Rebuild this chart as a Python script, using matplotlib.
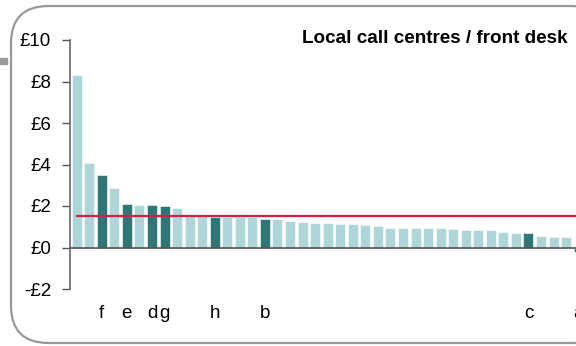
import matplotlib
matplotlib.use("Agg")
import matplotlib.pyplot as plt
from matplotlib.patches import FancyBboxPatch, Rectangle
from matplotlib.transforms import blended_transform_factory

plt.rcParams["font.family"] = ["Liberation Sans", "DejaVu Sans"]

# cost per contact, sorted, one bar per organisation
values = [8.30, 4.05, 3.47, 2.89, 2.09, 2.06, 2.03, 2.00, 1.91, 1.62,
          1.59, 1.45, 1.47, 1.46, 1.45, 1.37, 1.35, 1.30, 1.25, 1.19,
          1.17, 1.14, 1.11, 1.09, 1.03, 0.96, 0.96, 0.96, 0.95, 0.95,
          0.88, 0.84, 0.82, 0.82, 0.76, 0.72, 0.69, 0.56, 0.51, 0.50,
          -0.22]
# highlighted organisations and their position in the ranking
named = {2: "f", 4: "e", 6: "d", 7: "g", 11: "h", 15: "b", 36: "c", 40: "a"}
average = 1.54
yticks = [-2, 0, 2, 4, 6, 8, 10]
ytick_labels = ["-£2", "£0", "£2", "£4", "£6", "£8", "£10"]
title = "Local call centres / front desk"

light = "#AED5D8"
dark = "#2F7777"
red = "#D81E42"
grey = "#999999"

W, H = 576, 346
fig = plt.figure(figsize=(W / 100, H / 100), dpi=100)

# rounded frame, runs off the right edge like the original crop
frame = FancyBboxPatch((11 / W, 3 / H), 600 / W, 337 / H,
                       boxstyle="round,pad=0,rounding_size=0.065",
                       transform=fig.transFigure, fill=False,
                       edgecolor=grey, linewidth=1.6, mutation_aspect=W / H)
fig.patches.append(frame)
fig.patches.append(Rectangle((0, 1 - 64 / H), 7 / W, 6 / H,
                             transform=fig.transFigure, color=grey))

n = len(values)
left = 70.4 / W
width = 12.55 * n / W
ax = fig.add_axes([left, 57 / H, width, (289 - 40) / H])

x = list(range(n))
colors = [dark if i in named else light for i in x]
ax.bar(x, values, width=0.8, color=colors, edgecolor="white", linewidth=0.4, zorder=2)
ax.plot([0, n + 2], [average, average], color=red, linewidth=1.6, zorder=3, clip_on=False)
ax.axhline(0, color="#555555", linewidth=1.2, zorder=4)

ax.set_xlim(-0.5, n - 0.5)
ax.set_ylim(-2, 10)
ax.set_yticks(yticks)
ax.set_yticklabels(ytick_labels, fontsize=13.5)
ax.tick_params(axis="y", direction="out", length=6, width=1, color="#555555", pad=8)

ax.set_xticks([])
trans = blended_transform_factory(ax.transData, fig.transFigure)
for i, lab in named.items():
    ax.text(i, 1 - 313 / H, lab, transform=trans, ha="center", va="center",
            fontsize=13.5, clip_on=False)

for s in ["top", "right", "bottom"]:
    ax.spines[s].set_visible(False)
ax.spines["left"].set_color("#666666")
ax.spines["left"].set_linewidth(1.2)

fig.text(568 / W, 1 - 38.5 / H, title, ha="right", va="center",
         fontsize=13.6, fontweight="bold")

fig.savefig("out.png", dpi=100)
